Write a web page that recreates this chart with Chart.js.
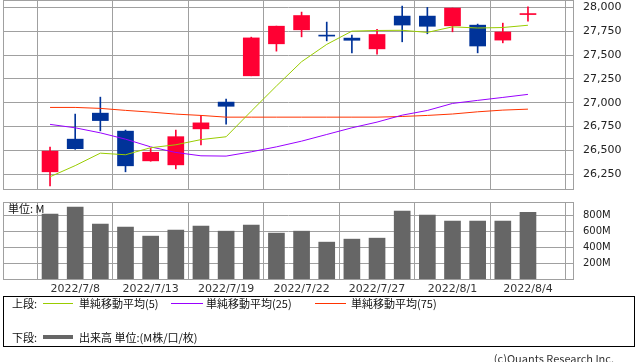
<!DOCTYPE html>
<html>
<head>
<meta charset="utf-8">
<script src="https://cdn.jsdelivr.net/npm/chart.js@4"></script>
<style>
  body { margin: 0; background: #fff; }
  #wrap { position: relative; width: 638px; height: 362px; overflow: hidden; font-family: 'Noto Sans CJK JP', sans-serif; }
  #wrap canvas { position: absolute; left: 0; top: 0; }
  .t { position: absolute; font-size: 11px; line-height: 14px; color: #111; white-space: nowrap; }
  .ln { position: absolute; }
</style>
</head>
<body>
<div id="wrap">
  <canvas id="price" width="638" height="362"></canvas>
  <canvas id="volume" width="638" height="362"></canvas>
  <div class="t" style="left:8px;top:201px;">単位: M</div>
  <div style="position:absolute;left:3px;top:296px;width:632px;height:51px;border:1px solid #000;box-sizing:border-box;"></div>
  <div class="t" style="left:12px;top:296px;">上段:</div>
  <div class="ln" style="left:43px;top:303px;width:30px;height:1px;background:#99cc00;"></div>
  <div class="t" style="left:79px;top:296px;">単純移動平均(5)</div>
  <div class="ln" style="left:171px;top:303px;width:32px;height:1px;background:#9900ff;"></div>
  <div class="t" style="left:206px;top:296px;">単純移動平均(25)</div>
  <div class="ln" style="left:315px;top:303px;width:31px;height:1px;background:#ff3300;"></div>
  <div class="t" style="left:351px;top:296px;">単純移動平均(75)</div>
  <div class="t" style="left:12px;top:330px;">下段:</div>
  <div class="ln" style="left:43px;top:335px;width:30px;height:4px;background:#666;"></div>
  <div class="t" style="left:79px;top:330px;">出来高 単位:(M株/口/枚)</div>
  <div class="t" style="right:24px;top:351px;color:#333;">(c)Quants Research Inc.</div>
</div>
<script>
const dates = ['2022/7/7', '2022/7/8', '2022/7/11', '2022/7/12', '2022/7/13', '2022/7/14', '2022/7/15',
  '2022/7/19', '2022/7/20', '2022/7/21', '2022/7/22', '2022/7/25', '2022/7/26', '2022/7/27',
  '2022/7/28', '2022/7/29', '2022/8/1', '2022/8/2', '2022/8/3', '2022/8/4'];

const opens  = [26274, 26617, 26890, 26701, 26389, 26347, 26725, 27006, 27282, 27618, 27765, 27705, 27678, 27565, 27909, 27909, 27807, 27814, 27657, 27925];
const closes = [26491, 26517, 26812, 26337, 26479, 26643, 26788, 26962, 27680, 27803, 27915, 27699, 27655, 27716, 27815, 27802, 27993, 27595, 27742, 27932];
const highs  = [26533, 26880, 27058, 26712, 26520, 26712, 26866, 27037, 27688, 27804, 27951, 27846, 27710, 27769, 28014, 28000, 27993, 27825, 27835, 28006];
const lows   = [26127, 26510, 26704, 26274, 26385, 26305, 26557, 26775, 27282, 27541, 27691, 27649, 27523, 27510, 27639, 27723, 27744, 27523, 27628, 27856];

const ma5  = [26222, 26339, 26470, 26453, 26527, 26558, 26612, 26642, 26911, 27175, 27430, 27612, 27751, 27758, 27760, 27738, 27796, 27784, 27789, 27813];
const ma25 = [26772, 26736, 26683, 26617, 26536, 26477, 26442, 26439, 26484, 26536, 26596, 26666, 26736, 26796, 26869, 26918, 26992, 27024, 27055, 27087];
const ma75 = [26950, 26950, 26940, 26919, 26901, 26880, 26866, 26848, 26848, 26848, 26848, 26848, 26848, 26848, 26855, 26866, 26881, 26904, 26922, 26932];

const volumes = [810, 896, 687, 650, 540, 613, 663, 601, 675, 577, 601, 466, 503, 515, 847, 798, 724, 724, 724, 834];

const priceTicks = [26250, 26500, 26750, 27000, 27250, 27500, 27750, 28000];
const volumeTicks = [200, 400, 600, 800];
const dateTicks = [1, 4, 7, 10, 13, 16, 19];

const UP = '#ff0033';
const DOWN = '#003399';
const GRID = '#a0a0a0';
const candleColors = opens.map((o, i) => closes[i] >= o ? UP : DOWN);

// grey frame round the plot area
const framePlugin = {
  id: 'frame',
  afterDraw(chart) {
    const a = chart.chartArea;
    const c = chart.ctx;
    c.save();
    c.strokeStyle = GRID;
    c.lineWidth = 1;
    c.strokeRect(Math.round(a.left) + 0.5, Math.round(a.top) + 0.5, Math.round(a.right - a.left) - 1, Math.round(a.bottom - a.top) - 1);
    c.restore();
  }
};

function xScale(showLabels) {
  return {
    type: 'linear',
    min: -1.87,
    max: 20.83,
    offset: false,
    afterBuildTicks: s => { s.ticks = dateTicks.map(v => ({ value: v })); },
    afterFit: s => { s.height = showLabels ? 20 : 0; s.paddingLeft = 0; s.paddingRight = 0; },
    grid: { color: GRID, drawTicks: false },
    border: { display: false },
    ticks: {
      display: showLabels,
      autoSkip: false,
      maxRotation: 0,
      padding: 3,
      color: '#333',
      font: { size: 11, family: 'DejaVu Sans' },
      callback: v => dates[v]
    }
  };
}

function yScale(min, max, tickValues, size, fmt) {
  return {
    position: 'right',
    min: min,
    max: max,
    afterBuildTicks: s => { s.ticks = tickValues.map(v => ({ value: v })); },
    afterFit: s => { s.width = 64; s.paddingTop = 0; s.paddingBottom = 0; },
    grid: { color: GRID, drawTicks: false },
    border: { display: false },
    ticks: {
      padding: 9,
      color: '#222',
      font: { size: size, family: 'DejaVu Sans' },
      callback: fmt
    }
  };
}

function maLine(values, color) {
  return {
    type: 'line',
    data: values.map((v, i) => ({ x: i, y: v })),
    borderColor: color,
    borderWidth: 1,
    pointRadius: 0,
    tension: 0,
    order: 0
  };
}

new Chart(document.getElementById('price'), {
  type: 'bar',
  data: {
    datasets: [
      maLine(ma5, '#99cc00'),
      maLine(ma25, '#9900ff'),
      maLine(ma75, '#ff3300'),
      {
        data: opens.map((o, i) => ({ x: i, y: [o, closes[i]] })),
        backgroundColor: candleColors,
        barThickness: 16,
        minBarLength: 1,
        grouped: false,
        order: 1
      },
      {
        data: lows.map((l, i) => ({ x: i, y: [l, highs[i]] })),
        backgroundColor: candleColors,
        barThickness: 1,
        grouped: false,
        order: 2
      }
    ]
  },
  options: {
    responsive: false,
    animation: false,
    events: [],
    layout: { padding: { left: 3, top: 0, right: 0, bottom: 172 } },
    plugins: { legend: { display: false }, tooltip: { enabled: false } },
    scales: {
      x: xScale(false),
      y: yScale(26083, 28078, priceTicks, 11, v => v.toLocaleString('en-US'))
    }
  },
  plugins: [framePlugin]
});

new Chart(document.getElementById('volume'), {
  type: 'bar',
  data: {
    datasets: [{
      data: volumes.map((v, i) => ({ x: i, y: v })),
      backgroundColor: '#666666',
      barThickness: 16
    }]
  },
  options: {
    responsive: false,
    animation: false,
    events: [],
    layout: { padding: { left: 3, top: 202, right: 0, bottom: 62 } },
    plugins: { legend: { display: false }, tooltip: { enabled: false } },
    scales: {
      x: xScale(true),
      y: yScale(0, 960, volumeTicks, 10, v => v + 'M')
    }
  },
  plugins: [framePlugin]
});
</script>
</body>
</html>
